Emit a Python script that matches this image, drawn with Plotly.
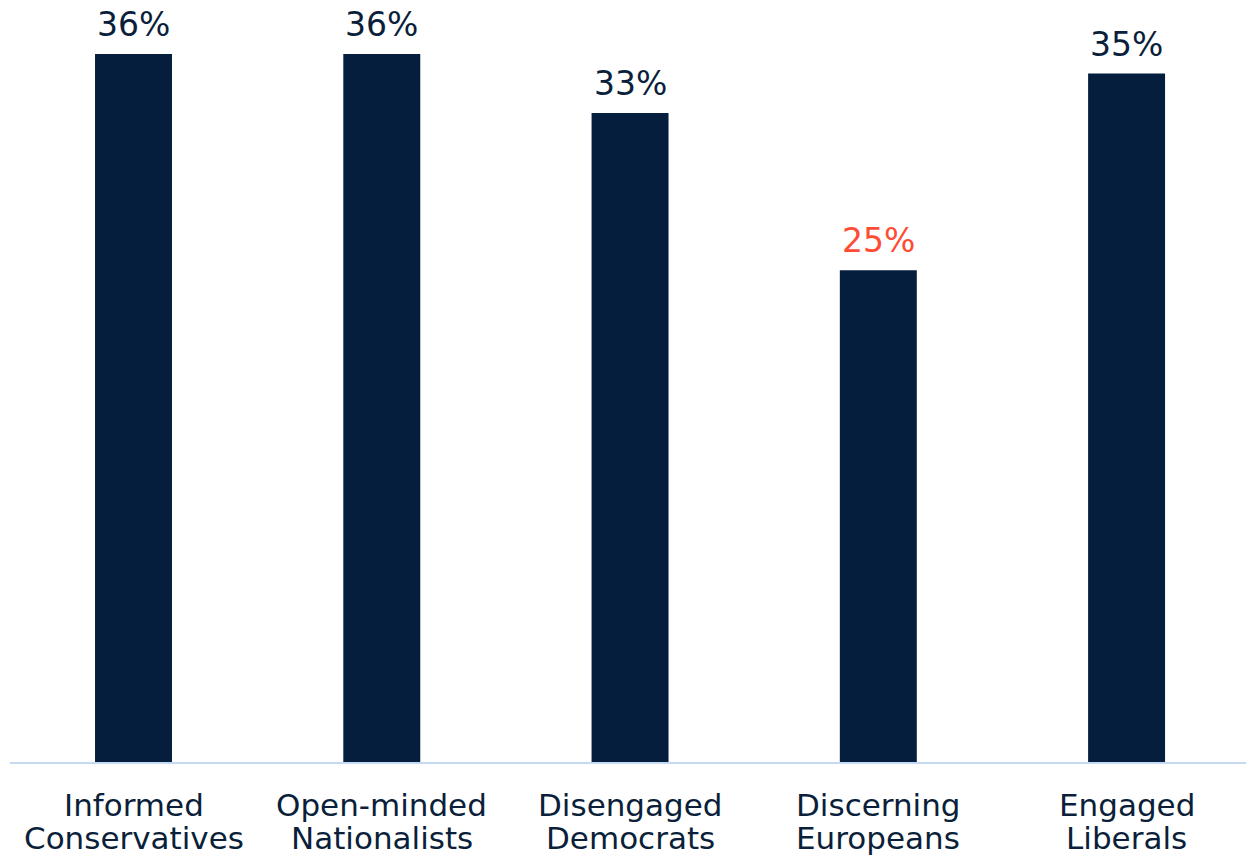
import plotly.graph_objects as go

# Share of each segment (%), segment names split over two lines
segments = ["Informed Conservatives", "Open-minded Nationalists",
            "Disengaged Democrats", "Discerning Europeans",
            "Engaged Liberals"]
name_line1 = ["Informed", "Open-minded", "Disengaged", "Discerning", "Engaged"]
name_line2 = ["Conservatives", "Nationalists", "Democrats", "Europeans", "Liberals"]
shares = [36, 36, 33, 25, 35]
label_colors = ["#0B1F3A", "#0B1F3A", "#0B1F3A", "#FF4B33", "#0B1F3A"]

bar_color = "#061E3D"
text_color = "#0B1F3A"

fig = go.Figure(
    go.Bar(
        x=segments,
        y=shares,
        width=0.31,
        marker=dict(color=bar_color, line=dict(width=0)),
        hoverinfo="skip",
    )
)

# value labels above each bar
for seg, val, col in zip(segments, shares, label_colors):
    fig.add_annotation(
        x=seg, y=val, text=f"{val}%",
        showarrow=False, yanchor="bottom", yshift=8,
        font=dict(family="DejaVu Sans", size=33, color=col),
    )

# category names under the axis, two tightly spaced lines
for seg, l1, l2 in zip(segments, name_line1, name_line2):
    for txt, shift in ((l1, -23), (l2, -56)):
        fig.add_annotation(
            x=seg, xref="x", y=0, yref="paper", text=txt,
            showarrow=False, yanchor="top", yshift=shift,
            font=dict(family="DejaVu Sans", size=31, color=text_color),
        )

fig.update_layout(
    width=1246,
    height=857,
    margin=dict(l=10, r=0, t=0, b=95, autoexpand=False),
    paper_bgcolor="white",
    plot_bgcolor="white",
    showlegend=False,
    font=dict(family="DejaVu Sans", color=text_color),
)
fig.update_xaxes(
    range=[-0.4975, 4.481],
    automargin=False,
    showline=True,
    linecolor="#C5DAF2",
    linewidth=2,
    showgrid=False,
    ticks="",
    showticklabels=False,
)
fig.update_yaxes(
    range=[0, 38.74],
    visible=False,
    showgrid=False,
    zeroline=False,
)

fig.write_html("out.html")
